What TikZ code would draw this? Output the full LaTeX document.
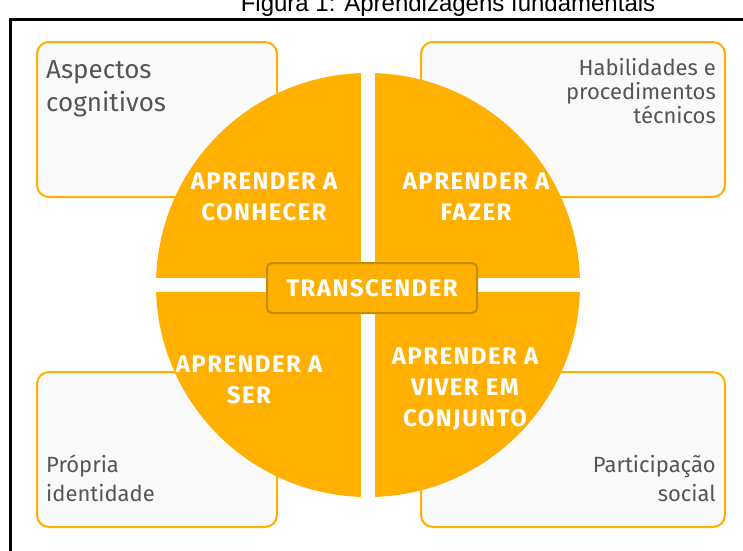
\documentclass[tikz,border=0pt]{standalone}
\usepackage{fontspec}
\setmainfont{Liberation Sans}
\newfontfamily\fira{Fira Sans}
\newfontfamily\firalarga{Fira Sans}[LetterSpace=6]
\usetikzlibrary{positioning}
\definecolor{laranja}{RGB}{255,176,0}
\definecolor{borda}{RGB}{196,140,0}
\definecolor{cinza}{RGB}{85,85,85}

\begin{document}
\begin{tikzpicture}[
        x=1pt, y=-1pt,
        caixa/.style={
            draw=laranja,
            line width=2pt,
            rounded corners=12pt,
            fill=black!2,
            minimum width=240pt,
            minimum height=155pt,
            inner sep=0pt
        },
        caixalarga/.style={caixa, minimum width=304pt},
        rotulo/.style={
            text=cinza,
            inner sep=0pt
        },
        quadrante/.style={
            font=\firalarga\bfseries\fontsize{24}{31}\selectfont,
            text=white,
            align=center,
            inner sep=0pt
        }
    ]
        \useasboundingbox (0,0) rectangle (743,550);

        % titulo e moldura
        \node[font=\fontsize{24}{28}\selectfont, anchor=base] (titulo) at (448,11) {Figura 1: Aprendizagens fundamentais};
        \draw[line width=3pt] (10,560) -- (10,19) -- (760,19);

        % caixas dos cantos
        \node[caixa] (cog) at (157,119.5) {};
        \node[caixalarga] (tec) at (573,119.5) {};
        \node[caixa] (ide) at (157,449.5) {};
        \node[caixalarga] (soc) at (573,449.5) {};
        \node[rotulo, align=left, font=\fira\fontsize{26}{33}\selectfont,
            below right=19pt and 10pt of cog.north west] (tcog) {Aspectos\\cognitivos};
        \node[rotulo, align=right, font=\fira\fontsize{22}{24}\selectfont,
            below left=17pt and 10pt of tec.north east] (ttec) {Habilidades e\\procedimentos\\técnicos};
        \node[rotulo, align=left, font=\fira\fontsize{22}{29}\selectfont,
            above right=26pt and 10pt of ide.south west] (tide) {Própria\\identidade};
        \node[rotulo, align=right, font=\fira\fontsize{22}{29}\selectfont,
            above left=26pt and 10pt of soc.south east] (tsoc) {Participação\\social};

        % disco em quatro partes
        \node[circle, fill=laranja, minimum size=424pt, inner sep=0pt] (disco) at (368,285) {};
        \begin{scope}
            \clip (disco.center) circle[radius=213pt];
            \fill[white] ([xshift=-7pt]disco.north) rectangle ([xshift=7pt]disco.south);
            \fill[white] ([yshift=7pt]disco.west) rectangle ([yshift=-7pt]disco.east);
        \end{scope}
        \node[draw=borda, line width=2pt, fill=laranja, rounded corners=5pt,
            minimum width=210pt, minimum height=50pt, text=white,
            font=\firalarga\bfseries\fontsize{24}{28}\selectfont] (trans) at (372,288) {TRANSCENDER};

        % textos dos quadrantes
        \node[quadrante] (conhecer) at (264,197) {APRENDER A\\CONHECER};
        \node[quadrante] (fazer) at (476,197) {APRENDER A\\FAZER};
        \node[quadrante] (ser) at (249,380) {APRENDER A\\SER};
        \node[quadrante] (conjunto) at (465,389) {APRENDER A\\VIVER EM\\CONJUNTO};
    \end{tikzpicture}
\end{document}
